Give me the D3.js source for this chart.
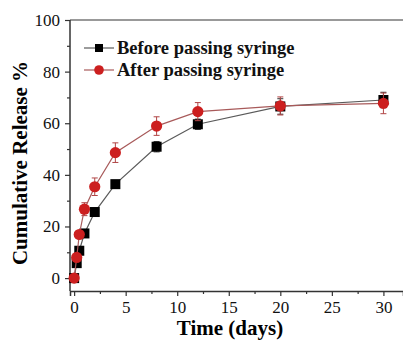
<!DOCTYPE html>
<html>
<head>
<meta charset="utf-8">
<script src="https://cdn.jsdelivr.net/npm/d3@7"></script>
<style>
  body { margin: 0; background: #fff; }
  svg { display: block; font-family: "Liberation Serif", "Times New Roman", serif; }
</style>
</head>
<body>
<svg id="chart" width="403" height="340"></svg>
<script>
// Release data
const days = [0, 0.25, 0.5, 1, 2, 4, 8, 12, 20, 30];
const beforeValues = [0, 5.8, 10.6, 17.3, 25.6, 36.4, 50.9, 59.6, 66.5, 69];
const beforeErrors = [0.5, 0.8, 0.8, 1, 1, 1.2, 2, 2, 3, 3];
const afterValues = [0, 8, 16.9, 26.7, 35.4, 48.6, 58.9, 64.5, 66.7, 67.7];
const afterErrors = [0.5, 1, 1.5, 2.5, 3.4, 3.8, 3.6, 3.5, 3.5, 4];
const seriesNames = ['Before passing syringe', 'After passing syringe'];
const xTicks = [0, 5, 10, 15, 20, 25, 30];
const yTicks = [0, 20, 40, 60, 80, 100];

const svg = d3.select('#chart');

const x = d3.scaleLinear().domain([-0.4, 31.9]).range([70, 403]);
const y = d3.scaleLinear().domain([-5, 100]).range([291, 20]);

const series = [
  { name: seriesNames[0], values: beforeValues, errors: beforeErrors,
    line: '#5a5a5a', fill: '#000', cap: '#333', shape: 'square' },
  { name: seriesNames[1], values: afterValues, errors: afterErrors,
    line: '#a85a5a', fill: '#cc1f1f', cap: '#b04545', shape: 'circle' }
];

// Top frame line
svg.append('line')
  .attr('x1', x.range()[0]).attr('x2', x.range()[1])
  .attr('y1', y(100)).attr('y2', y(100))
  .attr('stroke', '#777').attr('stroke-width', 1.5);

// Axes
const xAxis = svg.append('g')
  .attr('transform', `translate(0,${y.range()[0]})`)
  .call(d3.axisBottom(x).tickValues(xTicks).tickSize(5).tickPadding(5));
const xMinor = svg.append('g')
  .attr('transform', `translate(0,${y.range()[0]})`)
  .call(d3.axisBottom(x).tickValues(d3.range(2.5, 31, 5)).tickSize(3).tickFormat(''));
xMinor.select('.domain').remove();

const yAxis = svg.append('g')
  .attr('transform', `translate(${x.range()[0]},0)`)
  .call(d3.axisLeft(y).tickValues(yTicks).tickSize(5).tickPadding(5));
const yMinor = svg.append('g')
  .attr('transform', `translate(${x.range()[0]},0)`)
  .call(d3.axisLeft(y).tickValues(d3.range(10, 100, 20)).tickSize(3).tickFormat(''));
yMinor.select('.domain').remove();

[xAxis, yAxis, xMinor, yMinor].forEach(g => {
  g.attr('font-family', null);
  g.selectAll('.domain').attr('stroke', '#333').attr('stroke-width', 1.5);
  g.selectAll('.tick line').attr('stroke', '#333').attr('stroke-width', 1.2);
  g.selectAll('.tick text')
    .attr('font-family', 'Liberation Serif')
    .attr('font-size', 17)
    .attr('fill', '#111');
});
yAxis.selectAll('.domain').attr('d', `M-0,${y.range()[0]}V${y.range()[1]}`);

// Axis titles
svg.append('text')
  .attr('x', 230).attr('y', 335)
  .attr('text-anchor', 'middle')
  .attr('font-size', 21).attr('font-weight', 'bold')
  .text('Time (days)');

svg.append('text')
  .attr('transform', 'translate(27,163) rotate(-90)')
  .attr('text-anchor', 'middle')
  .attr('font-size', 21).attr('font-weight', 'bold')
  .text('Cumulative Release %');

// Series
const line = d3.line().x(d => x(d[0])).y(d => y(d[1]));

series.forEach(s => {
  const pts = days.map((d, i) => [d, s.values[i], s.errors[i]]);
  const g = svg.append('g');

  g.append('path')
    .datum(pts)
    .attr('d', line)
    .attr('fill', 'none')
    .attr('stroke', s.line)
    .attr('stroke-width', 1.2);

  // error bars
  const eb = g.selectAll('.err').data(pts).enter().append('g');
  eb.append('line')
    .attr('x1', d => x(d[0])).attr('x2', d => x(d[0]))
    .attr('y1', d => y(d[1] + d[2])).attr('y2', d => y(d[1] - d[2]))
    .attr('stroke', s.cap).attr('stroke-width', 1);
  [1, -1].forEach(sign => {
    eb.append('line')
      .attr('x1', d => x(d[0]) - 3).attr('x2', d => x(d[0]) + 3)
      .attr('y1', d => y(d[1] + sign * d[2])).attr('y2', d => y(d[1] + sign * d[2]))
      .attr('stroke', s.cap).attr('stroke-width', 1);
  });

  if (s.shape === 'square') {
    g.selectAll('.mk').data(pts).enter().append('rect')
      .attr('x', d => x(d[0]) - 5).attr('y', d => y(d[1]) - 5)
      .attr('width', 10).attr('height', 10)
      .attr('fill', s.fill);
  } else {
    g.selectAll('.mk').data(pts).enter().append('circle')
      .attr('cx', d => x(d[0])).attr('cy', d => y(d[1]))
      .attr('r', 5.6)
      .attr('fill', s.fill);
  }
});

// Legend
const legend = svg.append('g');
series.forEach((s, i) => {
  const ly = 48 + i * 22;
  legend.append('line')
    .attr('x1', 84).attr('x2', 114).attr('y1', ly).attr('y2', ly)
    .attr('stroke', s.line).attr('stroke-width', 1.2);
  if (s.shape === 'square') {
    legend.append('rect')
      .attr('x', 99 - 4).attr('y', ly - 4).attr('width', 8).attr('height', 8)
      .attr('fill', s.fill);
  } else {
    legend.append('circle')
      .attr('cx', 99).attr('cy', ly).attr('r', 4.8)
      .attr('fill', s.fill);
  }
  legend.append('text')
    .attr('x', 117).attr('y', ly + 6)
    .attr('font-size', 18.5).attr('font-weight', 'bold')
    .attr('fill', '#111')
    .text(s.name);
});
</script>
</body>
</html>
